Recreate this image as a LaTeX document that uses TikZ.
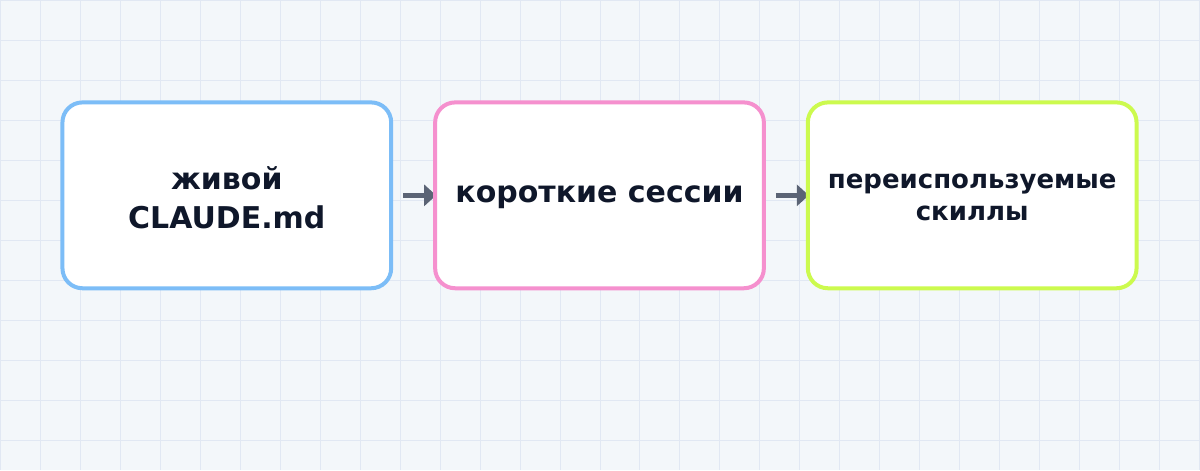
\documentclass[tikz,border=0pt]{standalone}
\usepackage{fontspec}
\setmainfont{DejaVu Sans}
\usetikzlibrary{arrows.meta}
\definecolor{bg}{HTML}{F3F7FA}
\definecolor{gridc}{HTML}{E1E8F3}
\definecolor{blueb}{HTML}{7CBDF7}
\definecolor{pinkb}{HTML}{F590CE}
\definecolor{limeb}{HTML}{CCFA4E}
\definecolor{txt}{HTML}{0F172A}
\definecolor{arr}{HTML}{5B6475}
\begin{document}
\begin{tikzpicture}[x=1pt,y=-1pt,
 card/.style={rounded corners=20pt, fill=white, outer sep=0pt,
   minimum width=329pt, minimum height=186pt, inner sep=0pt},
 cardline/.style={line width=4pt, rounded corners=20pt},
 bigtext/.style={text=txt, align=center, font=\bfseries\fontsize{30}{39}\selectfont},
 smalltext/.style={text=txt, align=center, font=\bfseries\fontsize{26}{32}\selectfont},
 conn/.style={draw=arr, line width=5pt, -{Triangle[length=12pt,width=21pt]}}]
\fill[bg] (0,0) rectangle (1200,470);
\draw[gridc, line width=1pt] (0,0) grid[step=40pt] (1200,470);
\node[card] (a) at (226.5,195) {};
\node[card] (b) at (599.5,195) {};
\node[card] (c) at (972.5,195) {};
\node[bigtext] (ta) at ([yshift=-2pt]a.center) {живой\\CLAUDE.md};
\node[bigtext] (tb) at ([yshift=-2pt]b.center) {короткие сессии};
\node[smalltext] (tc) at ([yshift=-2pt]c.center) {переиспользуемые\\скиллы};
\draw[conn] ([xshift=12pt]a.east) -- ([xshift=1pt]b.west);
\draw[conn] ([xshift=12pt]b.east) -- ([xshift=1pt]c.west);
\draw[cardline, blueb] (a.north west) rectangle (a.south east);
\draw[cardline, pinkb] (b.north west) rectangle (b.south east);
\draw[cardline, limeb] (c.north west) rectangle (c.south east);
\end{tikzpicture}
\end{document}
